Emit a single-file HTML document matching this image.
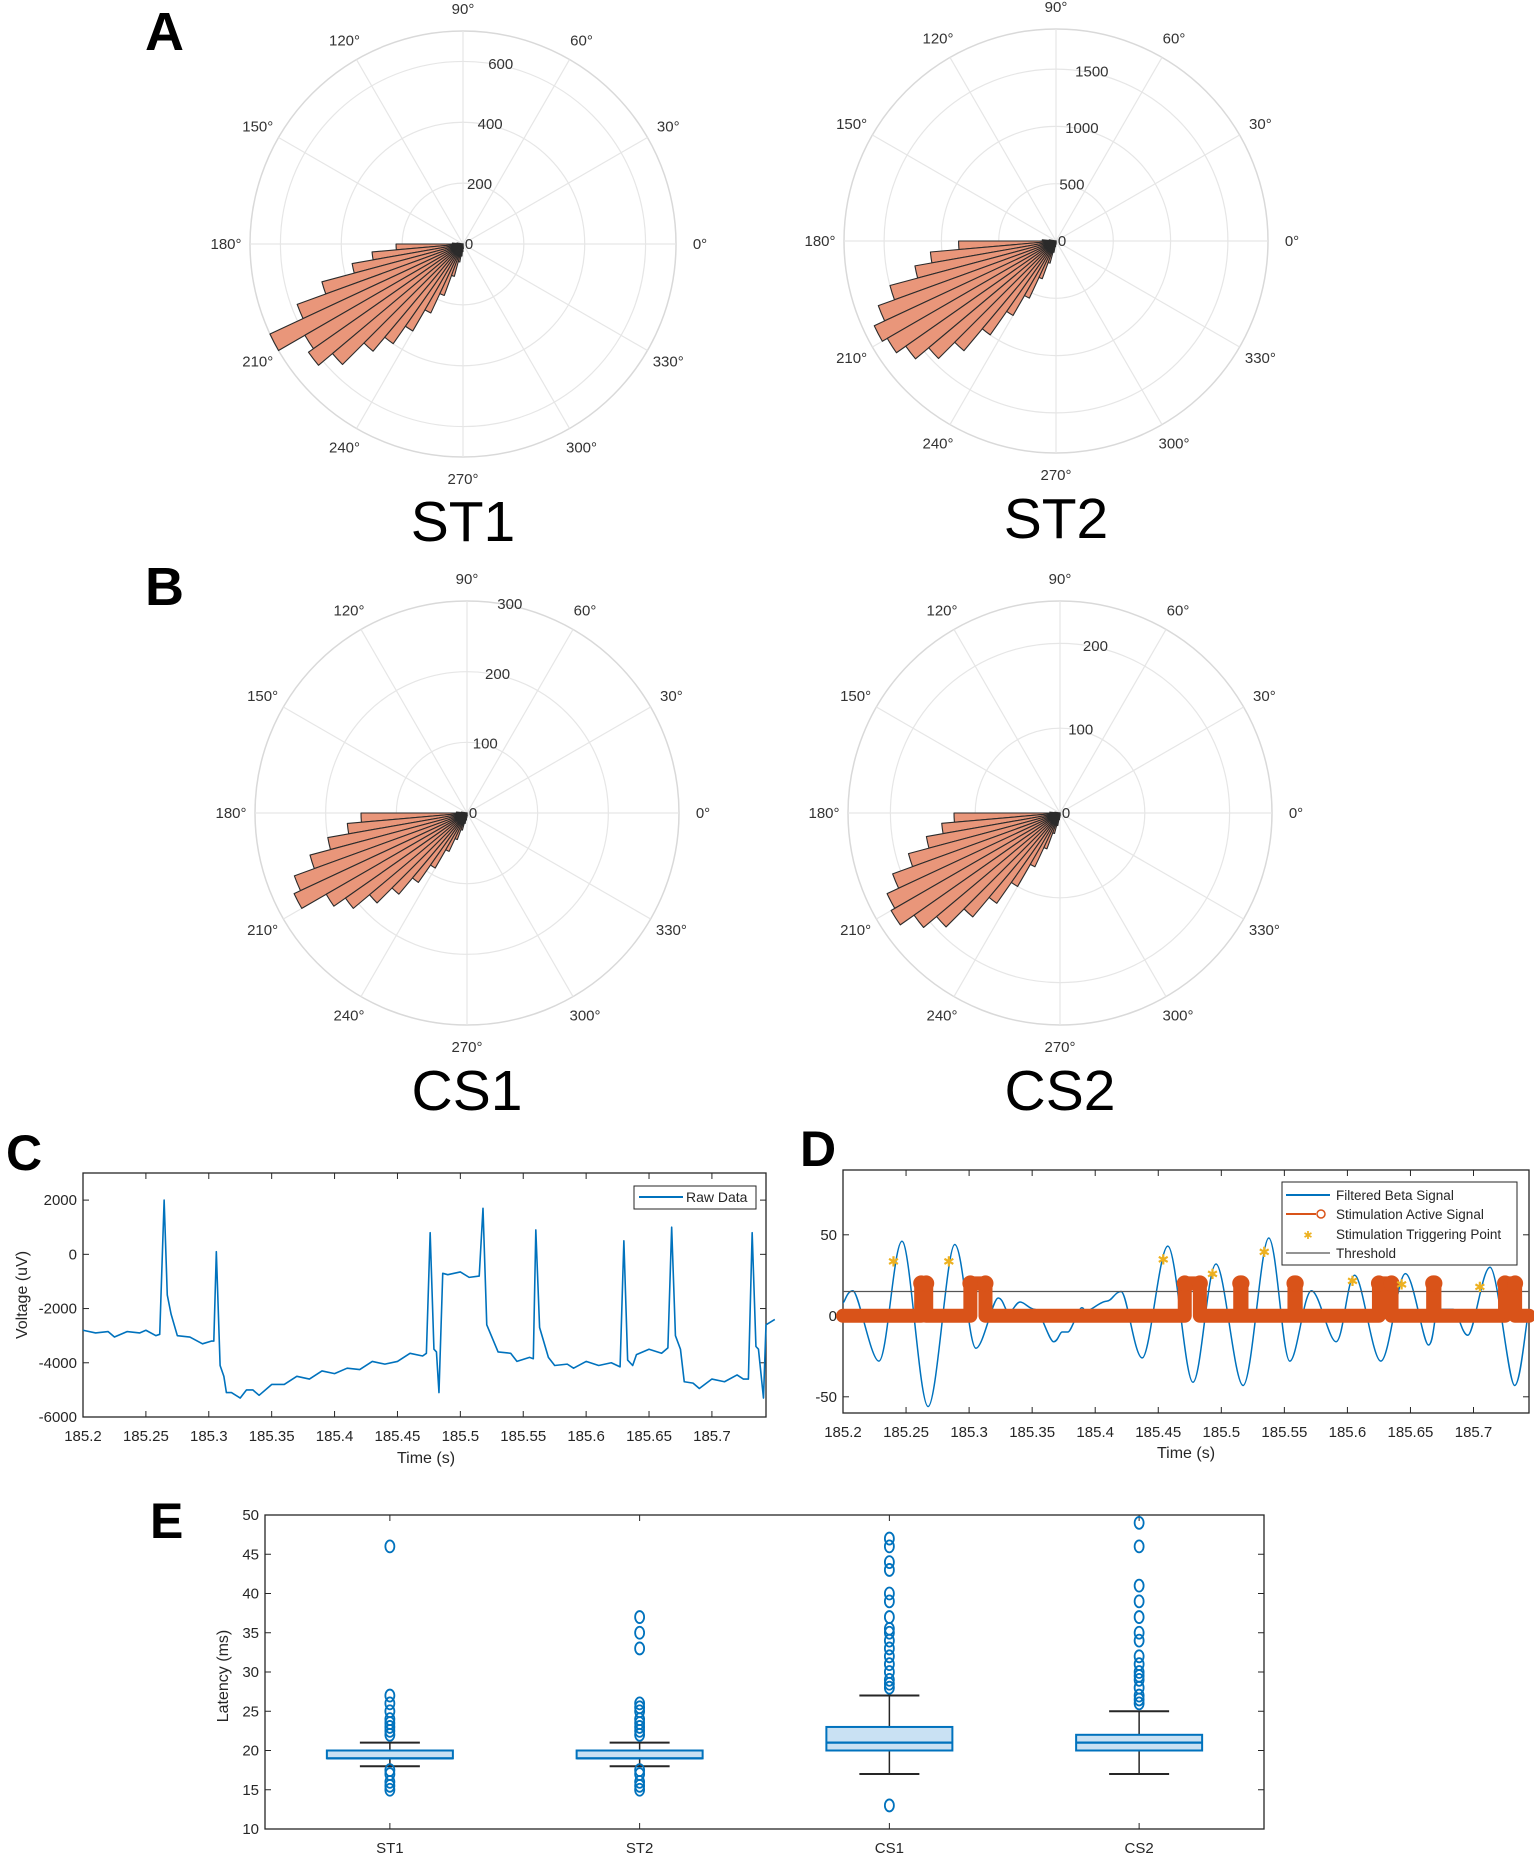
<!DOCTYPE html>
<html><head><meta charset="utf-8"><style>
body{margin:0;background:#fff}
svg{display:block;font-family:"Liberation Sans",Arial,sans-serif}
</style></head><body>
<svg id="fig" width="1534" height="1859" viewBox="0 0 1534 1859">
<text x="145" y="50" font-size="54" font-weight="bold">A</text>
<text x="145" y="605" font-size="54" font-weight="bold">B</text>
<text x="6" y="1170" font-size="50" font-weight="bold">C</text>
<text x="800" y="1166" font-size="50" font-weight="bold">D</text>
<text x="150" y="1538" font-size="50" font-weight="bold">E</text>
</svg>
<script>
// ---------- Polar data ----------
const binStart = [170,175,180,185,190,195,200,205,210,215,220,225,230,235,240,245,250,255,260,265,270];
const st1Vals = [20,35,220,300,370,480,580,700,600,620,560,460,400,330,250,180,110,60,40,25,15];
const st2Vals = [60,120,850,1100,1250,1500,1650,1750,1700,1600,1450,1250,1000,750,550,350,200,100,50,30,20];
const cs1Vals = [8,15,150,170,200,230,260,270,230,210,180,150,120,90,60,40,25,15,10,6,4];
const cs2Vals = [6,12,125,140,160,185,210,225,230,210,190,160,130,100,70,45,25,15,8,5,3];
const st1Rings = [200,400,600]; const st2Rings = [500,1000,1500];
const cs1Rings = [100,200,300]; const cs2Rings = [100,200];
const angleTicks = [0,30,60,90,120,150,180,210,240,270,300,330];

const NS = 'http://www.w3.org/2000/svg';
const svg = document.getElementById('fig');
function mk(tag, attrs, parent){ const e=document.createElementNS(NS,tag); for(const k in attrs) e.setAttribute(k,attrs[k]); (parent||svg).appendChild(e); return e; }
function txt(x,y,s,size,attrs,parent){ const e=mk('text',Object.assign({x:x,y:y,'font-size':size,fill:'#262626'},attrs||{}),parent); e.textContent=s; return e; }

function polar(name, cx, cy, R, rmax, rings, vals, title){
  const g = mk('g',{});
  
  
  const rs = v => v/rmax*R;
  const ring = mk('circle',{cx:cx,cy:cy,r:R,fill:'none',stroke:'#d9d9d9','stroke-width':1.5},g);
  
  
  rings.forEach(v=>{ if(v<rmax){ const c=mk('circle',{cx:cx,cy:cy,r:rs(v),fill:'none',stroke:'#e6e6e6','stroke-width':1.2},g);
    
     }});
  angleTicks.forEach(a=>{ const t=a*Math.PI/180;
    const l=mk('line',{x1:cx,y1:cy,x2:cx+R*Math.cos(t),y2:cy-R*Math.sin(t),stroke:'#e6e6e6','stroke-width':1.2},g);
    
    
    const lt=txt(cx+(R+24)*Math.cos(t),cy-(R+22)*Math.sin(t)+5,a+'°',15,{'text-anchor':'middle',fill:'#333'},g);
    
    
  });
  const bw=5;
  vals.forEach((v,i)=>{ const a0=binStart[i]*Math.PI/180, a1=(binStart[i]+bw)*Math.PI/180, r=rs(v);
    const d=`M${cx},${cy} L${cx+r*Math.cos(a0)},${cy-r*Math.sin(a0)} A${r},${r} 0 0 0 ${cx+r*Math.cos(a1)},${cy-r*Math.sin(a1)} Z`;
    const p=mk('path',{d:d,fill:'#e9967a',stroke:'#2b2b2b','stroke-width':1.1,'stroke-linejoin':'round'},g);
    
    
  });
  const t80=80*Math.PI/180;
  [0].concat(rings).forEach(v=>{ const r=rs(v);
    const rl=txt(cx+r*Math.cos(t80)+6,cy-r*Math.sin(t80)+5,String(v),15,{'text-anchor':'middle',fill:'#333'},g);
    
     });
  const tt=txt(cx,cy+297,title,57,{'text-anchor':'middle',fill:'#000'},g);
  
  
}
polar('polar-st1',463,244,213,700,st1Rings,st1Vals,'ST1');
polar('polar-st2',1056,241,212,1850,st2Rings,st2Vals,'ST2');
polar('polar-cs1',467,813,212,300,cs1Rings,cs1Vals,'CS1');
polar('polar-cs2',1060,813,212,250,cs2Rings,cs2Vals,'CS2');

// ---------- Axis helper ----------
function axes(name, L,T,Rr,B, xmin,xmax,ymin,ymax, xt,xtl,yt,ytl){
  const g=mk('g',{});
  
  
  const X=v=>L+(v-xmin)/(xmax-xmin)*(Rr-L), Y=v=>B-(v-ymin)/(ymax-ymin)*(B-T);
  const box=mk('rect',{x:L,y:T,width:Rr-L,height:B-T,fill:'#fff',stroke:'#262626','stroke-width':1.3},g);
  
  
  xt.forEach((v,i)=>{ const x=X(v);
    mk('line',{x1:x,y1:B,x2:x,y2:B-6,stroke:'#262626'},g); mk('line',{x1:x,y1:T,x2:x,y2:T+6,stroke:'#262626'},g);
    const l=txt(x,B+24,xtl[i],15,{'text-anchor':'middle'},g);
    
     });
  yt.forEach((v,i)=>{ const y=Y(v);
    mk('line',{x1:L,y1:y,x2:L+6,y2:y,stroke:'#262626'},g); mk('line',{x1:Rr,y1:y,x2:Rr-6,y2:y,stroke:'#262626'},g);
    const l=txt(L-6,y+5,ytl[i],15,{'text-anchor':'end'},g);
    
     });
  return {g,X,Y};
}

// ---------- Panel C data ----------
const rawT=[185.2,185.21,185.22,185.225,185.235,185.245,185.25,185.258,185.261,185.2645,185.267,185.27,185.275,185.285,185.295,185.302,185.304,185.306,185.309,185.312,185.314,185.318,185.325,185.33,185.335,185.34,185.35,185.36,185.37,185.38,185.39,185.4,185.41,185.42,185.43,185.44,185.45,185.46,185.47,185.473,185.476,185.479,185.481,185.483,185.486,185.49,185.5,185.507,185.515,185.518,185.521,185.53,185.54,185.545,185.555,185.558,185.56,185.563,185.57,185.575,185.585,185.59,185.6,185.61,185.62,185.627,185.63,185.633,185.637,185.64,185.65,185.66,185.665,185.668,185.671,185.675,185.678,185.685,185.69,185.7,185.71,185.72,185.725,185.729,185.732,185.735,185.737,185.741,185.743,185.75];
const rawV=[-2800,-2900,-2850,-3050,-2850,-2900,-2800,-3000,-2950,2000,-1500,-2200,-3000,-3050,-3300,-3200,-3200,100,-4100,-4500,-5100,-5100,-5300,-5000,-5000,-5200,-4800,-4800,-4500,-4600,-4300,-4400,-4200,-4250,-3950,-4050,-3950,-3650,-3750,-3650,800,-3500,-3600,-5100,-700,-750,-650,-850,-800,1700,-2600,-3600,-3650,-3950,-3800,-3850,900,-2700,-3800,-4100,-4050,-4200,-3950,-4100,-4000,-4150,500,-3900,-4100,-3700,-3500,-3650,-3450,1000,-3000,-3500,-4700,-4750,-4950,-4600,-4700,-4450,-4600,-4600,800,-3400,-3500,-5300,-2600,-2400];
const cXTicks=[185.2,185.25,185.3,185.35,185.4,185.45,185.5,185.55,185.6,185.65,185.7];
const cXLabels=['185.2','185.25','185.3','185.35','185.4','185.45','185.5','185.55','185.6','185.65','185.7'];
const cYTicks=[-6000,-4000,-2000,0,2000];
const cYLabels=['-6000','-4000','-2000','0','2000'];

const C=axes('raw-data-chart',83,1173,766,1417,185.2,185.743,-6000,3000,cXTicks,cXLabels,cYTicks,cYLabels);
{
  const pts=rawT.map((t,i)=>C.X(t)+','+C.Y(rawV[i])).join(' ');
  const pl=mk('polyline',{points:pts,fill:'none',stroke:'#0072BD','stroke-width':1.6,'stroke-linejoin':'round'},C.g);
  
  
  const lg=mk('g',{},C.g);
  
  
  mk('rect',{x:634,y:1186,width:122,height:23,fill:'#fff',stroke:'#262626'},lg);
  mk('line',{x1:639,y1:1197,x2:683,y2:1197,stroke:'#0072BD','stroke-width':2},lg);
  txt(686,1202,'Raw Data',14,{},lg);
  const xl=txt(426,1463,'Time (s)',16,{'text-anchor':'middle'},C.g);
  
  
  const yl=txt(0,0,'Voltage (uV)',16,{'text-anchor':'middle',transform:'translate(27,1295) rotate(-90)'},C.g);
  
  
}

// ---------- Panel D data ----------
const betaT=[185.2,185.2078,185.2285,185.2468,185.2675,185.2886,185.3054,185.3230,185.3315,185.3405,185.3522,185.3670,185.3737,185.3784,185.3893,185.3932,185.4088,185.4205,185.4373,185.4576,185.4775,185.4958,185.5173,185.5376,185.5543,185.5715,185.5910,185.6058,185.6265,185.6460,185.6643,185.6721,185.6838,185.6955,185.7131,185.7326,185.7436];
const betaV=[8,15.5,-28,46,-56,44,-20,11,2,8.5,4,-16,-10,-10,5,3,9,15,-26,43,-41,32,-43,48,-28,15.5,-16,25,-28,26,-18,4,4,-12,30,-43,0];
const stimStart=[185.262,185.301,185.471,185.515,185.558,185.625,185.668,185.725];
const stimEnd=[185.266,185.313,185.483,185.516,185.559,185.635,185.669,185.733];
const stimHigh=20;
const threshold=15;
const starT=[185.240,185.284,185.454,185.493,185.534,185.604,185.643,185.705];
const starV=[34,34,35.5,26.5,40,22,20,18.5];
const dXTicks=cXTicks, dXLabels=cXLabels;
const dYTicks=[-50,0,50], dYLabels=['-50','0','50'];

const D=axes('beta-signal-chart',843,1170,1529,1413,185.2,185.744,-60,90,dXTicks,dXLabels,dYTicks,dYLabels);
{
  const P=betaT.map((t,i)=>[D.X(t),D.Y(betaV[i])]);
  let d='M'+P[0][0]+','+P[0][1];
  for(let i=0;i<P.length-1;i++){
    const p0=P[Math.max(0,i-1)],p1=P[i],p2=P[i+1],p3=P[Math.min(P.length-1,i+2)];
    const c1x=p1[0]+(p2[0]-p0[0])/6, c2x=p2[0]-(p3[0]-p1[0])/6;
    d+=` C${c1x},${p1[1]} ${c2x},${p2[1]} ${p2[0]},${p2[1]}`;
  }
  const bl=mk('path',{d:d,fill:'none',stroke:'#0072BD','stroke-width':1.5},D.g);
  
  
  const th=mk('line',{x1:843,x2:1529,y1:D.Y(threshold),y2:D.Y(threshold),stroke:'#555','stroke-width':1.2},D.g);
  
  
  let pts=[[185.2,0]];
  stimStart.forEach((s,i)=>{ pts.push([s,0],[s,stimHigh],[stimEnd[i],stimHigh],[stimEnd[i],0]); });
  pts.push([185.744,0]);
  const sl=mk('polyline',{points:pts.map(p=>D.X(p[0])+','+D.Y(p[1])).join(' '),fill:'none',stroke:'#D95319','stroke-width':14,'stroke-linejoin':'round','stroke-linecap':'round'},D.g);
  
  
  stimStart.forEach((s,i)=>{ [s,stimEnd[i]].forEach(t=>{
    const c=mk('circle',{cx:D.X(t),cy:D.Y(stimHigh),r:8,fill:'#D95319'},D.g);
    
     }); });
  starT.forEach((t,i)=>{
    const s=txt(D.X(t),D.Y(starV[i])+6,'✱',14,{'text-anchor':'middle',fill:'#EDB120'},D.g);
    
     });
  const lg=mk('g',{},D.g);
  
  
  mk('rect',{x:1282,y:1182,width:235,height:83,fill:'#fff',stroke:'#262626'},lg);
  const ly=[1195,1214,1234,1253];
  mk('line',{x1:1286,y1:ly[0],x2:1330,y2:ly[0],stroke:'#0072BD','stroke-width':2},lg);
  mk('line',{x1:1286,y1:ly[1],x2:1316,y2:ly[1],stroke:'#D95319','stroke-width':2},lg);
  mk('circle',{cx:1321,cy:ly[1],r:4,fill:'none',stroke:'#D95319','stroke-width':1.5},lg);
  txt(1308,ly[2]+5,'✱',11,{'text-anchor':'middle',fill:'#EDB120'},lg);
  mk('line',{x1:1286,y1:ly[3],x2:1330,y2:ly[3],stroke:'#555','stroke-width':1.2},lg);
  ['Filtered Beta Signal','Stimulation Active Signal','Stimulation Triggering Point','Threshold'].forEach((s,i)=>txt(1336,ly[i]+5,s,13.5,{},lg));
  const xl=txt(1186,1458,'Time (s)',16,{'text-anchor':'middle'},D.g);
  
  
}

// ---------- Panel E data ----------
const groups=['ST1','ST2','CS1','CS2'];
const q1=[19,19,20,20];
const med=[19,19,21,21];
const q3=[20,20,23,22];
const wLo=[18,18,17,17];
const wHi=[21,21,27,25];
const outST1=[15,15.5,16,17,17.5,22,22.5,23,23.5,24,25,26,27,46];
const outST2=[15,15.5,16,17,17.5,22,22.5,23,23.5,24,25,25.5,26,33,35,37];
const outCS1=[13,28,28.5,29,30,31,32,33,34,35,35.5,37,39,40,43,44,46,47];
const outCS2=[26,26.5,27,28,29,29.5,30,31,32,34,35,37,39,41,46,49];
const eYTicks=[10,15,20,25,30,35,40,45,50];

const E=axes('latency-boxplot',265,1515,1264,1829,0.5,4.5,10,50,[1,2,3,4],groups,eYTicks,eYTicks.map(String));
{
  const outs=[outST1,outST2,outCS1,outCS2];
  groups.forEach((gname,i)=>{
    const x=E.X(i+1), hw=63, cw=30;
    const g=mk('g',{},E.g);
    
    
    mk('line',{x1:x,x2:x,y1:E.Y(q3[i]),y2:E.Y(wHi[i]),stroke:'#262626','stroke-width':1.5},g);
    mk('line',{x1:x,x2:x,y1:E.Y(q1[i]),y2:E.Y(wLo[i]),stroke:'#262626','stroke-width':1.5},g);
    mk('line',{x1:x-cw,x2:x+cw,y1:E.Y(wHi[i]),y2:E.Y(wHi[i]),stroke:'#262626','stroke-width':2},g);
    mk('line',{x1:x-cw,x2:x+cw,y1:E.Y(wLo[i]),y2:E.Y(wLo[i]),stroke:'#262626','stroke-width':2},g);
    mk('rect',{x:x-hw,y:E.Y(q3[i]),width:2*hw,height:E.Y(q1[i])-E.Y(q3[i]),fill:'#c9e1f3',stroke:'#0072BD','stroke-width':2},g);
    mk('line',{x1:x-hw,x2:x+hw,y1:E.Y(med[i]),y2:E.Y(med[i]),stroke:'#0072BD','stroke-width':2.2},g);
    outs[i].forEach(v=>{ const c=mk('ellipse',{cx:x,cy:E.Y(v),rx:4.5,ry:6,fill:'none',stroke:'#0072BD','stroke-width':1.8},g);
      
       });
  });
  const yl=txt(0,0,'Latency (ms)',16,{'text-anchor':'middle',transform:'translate(228,1676) rotate(-90)'},E.g);
  
  
}
</script>
</body></html>
